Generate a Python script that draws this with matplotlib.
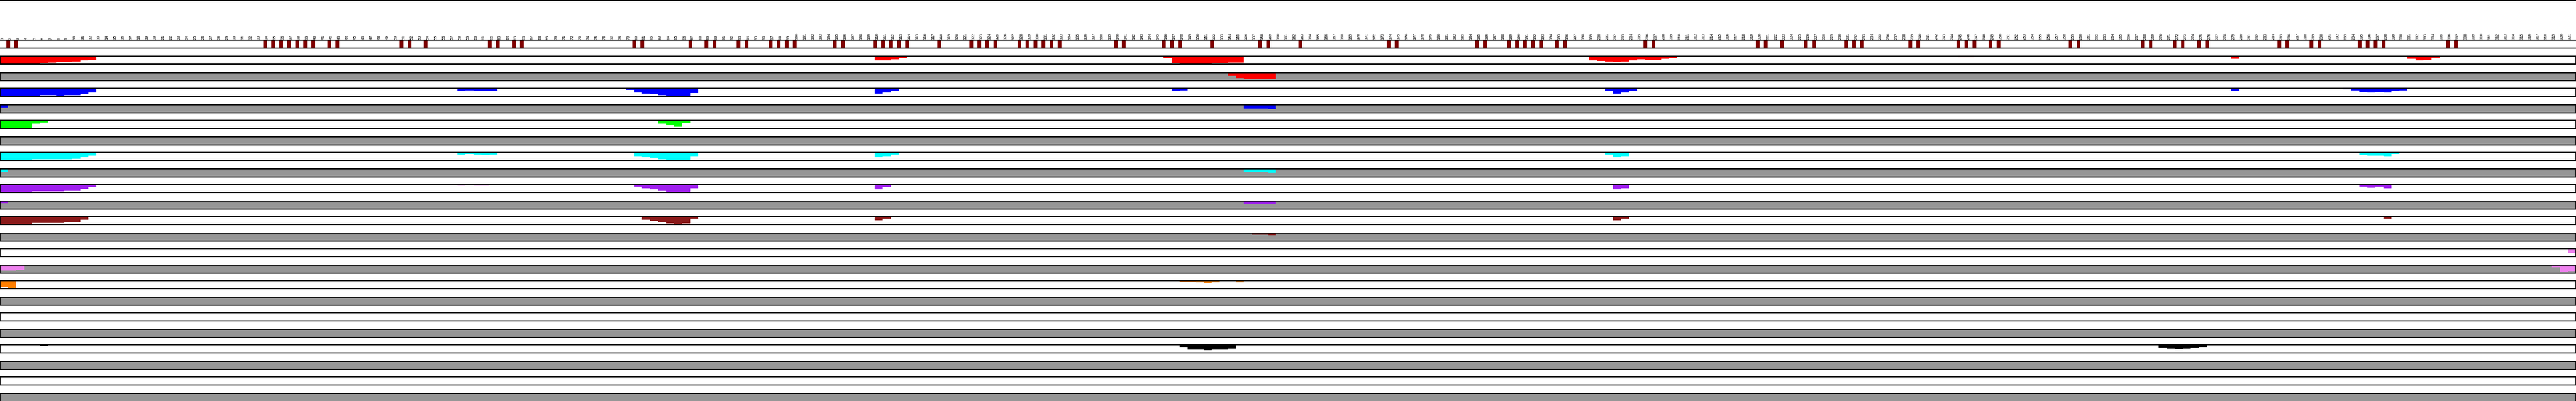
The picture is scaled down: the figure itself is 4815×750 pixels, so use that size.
import numpy as np
import matplotlib.pyplot as plt
from matplotlib.patches import Rectangle

# position labels along the top
n_cols = 321
labels = [str(i) for i in range(1, n_cols + 1)]

# positions marked in the top strip
marker_cols = [2, 3, 34, 35, 36, 37, 38, 39, 40, 42, 43, 51, 52, 54, 62, 63, 65, 66,
               80, 81, 87, 89, 90, 93, 94, 97, 98, 99, 100, 105, 106, 110, 111, 112,
               113, 114, 118, 122, 123, 124, 125, 128, 129, 130, 131, 132, 133, 140,
               141, 146, 147, 148, 152, 158, 159, 163, 174, 175, 185, 186, 189, 190,
               191, 192, 193, 195, 196, 206, 207, 220, 221, 223, 226, 227, 231, 232,
               233, 239, 240, 245, 246, 247, 249, 250, 259, 260, 268, 269, 272, 273,
               275, 276, 285, 286, 289, 290, 295, 296, 297, 298, 306, 307]

# fill depth per column (0-15) for each track, white row then grey row
red_w_cols = [1, 2, 3, 4, 5, 6, 7, 8, 9, 10, 11, 12, 110, 111, 112, 113,
              146, 147, 148, 149, 150, 151, 152, 153, 154, 155,
              199, 200, 201, 202, 203, 204, 205, 206, 207, 208, 209,
              245, 246, 279, 301, 302, 303, 304]
red_w_vals = [15, 15, 15, 15, 14, 13, 12, 11, 11, 10, 8, 7, 7.5, 7.5, 5.5, 3.5,
              3.7, 12.7, 13.7, 13.7, 13.7, 13.7, 12.7, 12.7, 11.7, 11.7,
              7.5, 8.8, 9.7, 10.6, 9.7, 7.5, 5.7, 6.6, 6.6, 4.8, 3.5,
              2.3, 2.3, 4.8, 4.8, 7.5, 6.6, 2.6]
red_g_cols = [154, 155, 156, 157, 158, 159]
red_g_vals = [5.7, 9.7, 11.7, 11.7, 11.7, 11.7]

blue_w_cols = [1, 2, 3, 4, 5, 6, 7, 8, 9, 10, 11, 12, 58, 59, 60, 61, 62,
               79, 80, 81, 82, 83, 84, 85, 86, 87, 110, 111, 112, 147, 148,
               201, 202, 203, 204, 279, 293, 294, 295, 296, 297, 298, 299, 300]
blue_w_vals = [15, 15, 15, 15, 14, 13, 13, 14, 13, 13, 11, 8, 5.3, 4, 5.3, 5.3, 5.3,
               2.7, 8, 10, 11, 13, 14, 15, 15, 9, 9.7, 8, 4.8, 5, 4,
               4.8, 9.7, 8.4, 4.8, 4.8, 2.2, 3.5, 6.6, 7.9, 7, 8.4, 4.8, 3.5]
blue_g_cols = [1, 156, 157, 158, 159]
blue_g_vals = [6, 6.5, 6.5, 6.5, 7.8]

green_w_cols = [1, 2, 3, 4, 5, 6, 83, 84, 85, 86]
green_w_vals = [13.5, 15, 15, 14, 6, 4, 6, 9, 12, 5]
green_g_cols = []
green_g_vals = []

cyan_w_cols = [1, 2, 3, 4, 5, 6, 7, 8, 9, 10, 11, 12, 58, 59, 60, 61, 62,
               80, 81, 82, 83, 84, 85, 86, 87, 110, 111, 112, 201, 202, 203,
               295, 296, 297, 298, 299]
cyan_w_vals = [15, 15, 15, 15, 13, 13, 13, 13, 13, 12, 9, 6, 3.5, 2.6, 3.5, 5.3, 3.5,
               7, 8.8, 9.7, 12.8, 14.5, 14.5, 14.5, 7, 8.8, 6.6, 3.5, 3.5, 8.8, 6.6,
               4.8, 5.7, 5.7, 6.6, 2.6]
cyan_g_cols = [1, 156, 157, 158, 159]
cyan_g_vals = [5, 5.3, 5.3, 5.3, 6.6]

purple_w_cols = [1, 2, 3, 4, 5, 6, 7, 8, 9, 10, 11, 12, 58, 60, 61,
                 80, 81, 82, 83, 84, 85, 86, 87, 110, 111, 202, 203,
                 295, 296, 297, 298]
purple_w_vals = [15, 15, 15, 15, 13, 13, 13, 13, 12, 12, 8, 5, 2.2, 2.2, 2.2,
                 4.4, 7, 9.3, 11.5, 13.7, 15, 13.7, 7, 8.8, 5.3, 8.8, 7,
                 4, 5.7, 4.4, 7]
purple_g_cols = [1, 156, 157, 158, 159]
purple_g_vals = [4, 4.8, 4.8, 4.8, 6.2]

brown_w_cols = [1, 2, 3, 4, 5, 6, 7, 8, 9, 10, 11, 81, 82, 83, 84, 85, 86, 87,
                110, 111, 202, 203, 298]
brown_w_vals = [15, 15, 15, 15, 12, 12, 12, 12, 11, 11, 6, 5.7, 7.5, 10.6, 12.8, 15, 12.8, 4.4,
                6.6, 4.4, 6.6, 3.5, 4.4]
brown_g_cols = [157, 158, 159]
brown_g_vals = [2.7, 2.7, 4]

violet_w_cols = [321]
violet_w_vals = [8]
violet_g_cols = [1, 2, 3, 319, 320, 321]
violet_g_vals = [10, 10, 9, 4.4, 11.5, 10.6]

orange_w_cols = [1, 2, 148, 149, 150, 151, 152, 155]
orange_w_vals = [12, 14, 2.3, 2.3, 3.3, 4.3, 3.3, 3.3]
orange_g_cols = []
orange_g_vals = []

black_w_cols = [6, 148, 149, 150, 151, 152, 153, 154, 270, 271, 272, 273, 274, 275]
black_w_vals = [2, 4, 9.3, 9.3, 10.3, 9.3, 9.3, 7.3, 4.8, 6.6, 7.9, 6.6, 5.3, 3.5]
black_g_cols = []
black_g_vals = []

tracks = [
    ('#ff0000', red_w_cols, red_w_vals, red_g_cols, red_g_vals),
    ('#0000ff', blue_w_cols, blue_w_vals, blue_g_cols, blue_g_vals),
    ('#00ff00', green_w_cols, green_w_vals, green_g_cols, green_g_vals),
    ('#00ffff', cyan_w_cols, cyan_w_vals, cyan_g_cols, cyan_g_vals),
    ('#a020f0', purple_w_cols, purple_w_vals, purple_g_cols, purple_g_vals),
    ('#8b1a1a', brown_w_cols, brown_w_vals, brown_g_cols, brown_g_vals),
    ('#ee82ee', violet_w_cols, violet_w_vals, violet_g_cols, violet_g_vals),
    ('#ff7f00', orange_w_cols, orange_w_vals, orange_g_cols, orange_g_vals),
    ('#666666', [], [], [], []),
    ('#000000', black_w_cols, black_w_vals, black_g_cols, black_g_vals),
    ('#666666', [], [], [], []),
]

W, H = 4815, 750
fig = plt.figure(figsize=(W / 100, H / 100), dpi=100)
ax = fig.add_axes([0, 0, 1, 1])
ax.set_xlim(0, n_cols)
ax.set_ylim(H, 0)
ax.axis('off')

grey = '#969696'
lw = 1.1

# top strip with labels and markers
ax.axhline(0.5, color='black', lw=lw, antialiased=False)
ax.axhline(75, color='black', lw=lw, antialiased=False)
ax.axhline(90, color='black', lw=lw, antialiased=False)
ax.bar(np.array(marker_cols) - 1, 15, bottom=75, width=7 / 15, color='#800000',
       align='center', lw=0, antialiased=False)
for i, lab in enumerate(labels):
    ax.text(i + 4 / 15, 74, lab, rotation=90, ha='center', va='bottom',
            fontsize=5, family='DejaVu Sans Mono')

# track rows
for i, (color, wc, wv, gc, gv) in enumerate(tracks):
    rows = [(105 + 60 * i, 'white', wc, wv), (136 + 60 * i, grey, gc, gv)]
    for top, face, cols, vals in rows:
        ax.add_patch(Rectangle((0, top), n_cols, 15, facecolor=face,
                               edgecolor='none', zorder=1, antialiased=False))
        if len(cols):
            ax.bar(np.array(cols) - 1, vals, bottom=top, width=1, align='edge',
                   color=color, lw=0, antialiased=False, zorder=2)
        ax.add_patch(Rectangle((0, top), n_cols, 15, fill=False,
                               edgecolor='black', lw=lw, zorder=3, antialiased=False))

fig.savefig('out.png', dpi=100)
